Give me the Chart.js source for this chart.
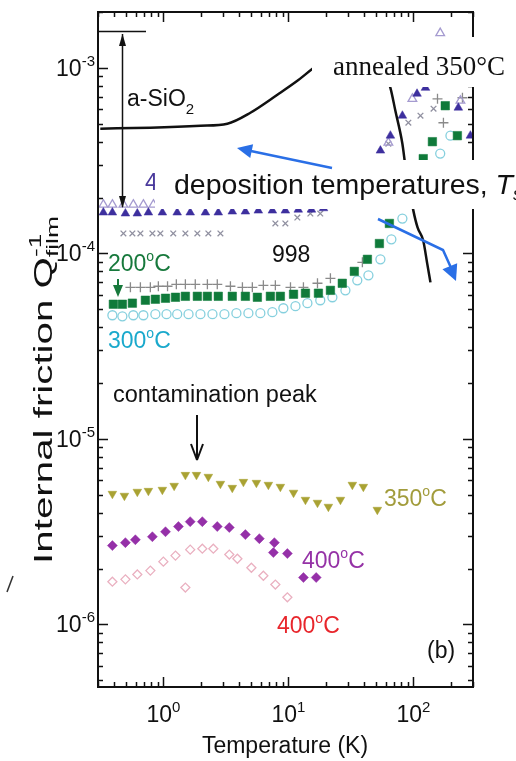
<!DOCTYPE html>
<html>
<head>
<meta charset="utf-8">
<script src="https://cdn.jsdelivr.net/npm/chart.js@4.4.0/dist/chart.umd.min.js"></script>
<style>
  html, body { margin: 0; padding: 0; background: #fff; }
  #wrap { width: 516px; height: 761px; position: relative; }
</style>
</head>
<body>
<div id="wrap"><canvas id="chart"></canvas></div>
<script>
// axis ranges
const tMin = 0.3, tMax = 300;
const qMin = 4.6e-7, qMax = 2.0e-3;
const xTickExps = [0, 1, 2];
const yTickExps = [-3, -4, -5, -6];

// bulk a-SiO2 reference curve
const sio2T = [0.313, 0.787, 1.98, 3.25, 4.97, 8.17, 11.8, 15.6, 28.6, 49.7, 65.5, 71.8, 81.7, 86.3, 100, 108, 120, 129, 137];
const sio2Q = [4.70e-4, 4.76e-4, 4.87e-4, 5.0e-4, 5.73e-4, 7.16e-4, 8.51e-4, 9.88e-4, 1.31e-3, 1.23e-3, 7.80e-4, 5.87e-4, 3.90e-4, 2.97e-4, 1.70e-4, 1.38e-4, 1.17e-4, 8.83e-5, 6.98e-5];

// 400C film, filled triangles
const triT = [0.331, 0.391, 0.497, 0.619, 0.759, 0.982, 1.29, 1.64, 2.17, 2.75, 3.56, 4.53, 5.75, 7.45, 9.46, 12.0, 15.3, 19.1, 23.7, 31.3, 41.3, 54.5, 65.5, 81.7, 107, 125, 229, 286];
const triQ = [1.66e-4, 1.66e-4, 1.64e-4, 1.64e-4, 1.66e-4, 1.66e-4, 1.66e-4, 1.66e-4, 1.66e-4, 1.66e-4, 1.68e-4, 1.68e-4, 1.70e-4, 1.70e-4, 1.70e-4, 1.72e-4, 1.72e-4, 1.75e-4, 1.81e-4, 2.2e-4, 2.8e-4, 3.58e-4, 4.31e-4, 5.52e-4, 7.25e-4, 7.80e-4, 6.10e-4, 4.31e-4];

// open triangles
const openTriT = [0.331, 0.391, 0.479, 0.575, 0.692, 0.832, 63.1, 98.2, 164, 238];
const openTriQ = [1.83e-4, 1.83e-4, 1.83e-4, 1.83e-4, 1.83e-4, 1.83e-4, 3.95e-4, 6.81e-4, 1.54e-3, 6.65e-4];

// crosses
const crossT = [0.479, 0.565, 0.655, 0.817, 0.946, 1.20, 1.50, 1.87, 2.29, 2.86, 3.56, 4.53, 7.87, 9.46, 11.8, 15.0, 18.0, 26.1, 37.7, 63.1, 91.2, 114, 145];
const crossQ = [1.28e-4, 1.28e-4, 1.28e-4, 1.28e-4, 1.28e-4, 1.28e-4, 1.28e-4, 1.28e-4, 1.28e-4, 1.28e-4, 1.28e-4, 1.30e-4, 1.45e-4, 1.45e-4, 1.56e-4, 1.64e-4, 1.64e-4, 1.93e-4, 2.47e-4, 3.90e-4, 5.06e-4, 5.52e-4, 6.02e-4];

// plus signs
const plusT = [0.545, 0.655, 0.787, 0.912, 1.08, 1.27, 1.50, 1.80, 2.25, 2.70, 3.44, 4.29, 5.15, 6.31, 7.87, 10.4, 13.2, 17.1, 21.7, 39.1, 156, 174, 247];
const plusQ = [6.56e-5, 6.56e-5, 6.56e-5, 6.65e-5, 6.65e-5, 6.81e-5, 6.81e-5, 6.81e-5, 6.81e-5, 6.81e-5, 6.65e-5, 6.56e-5, 6.56e-5, 6.73e-5, 6.73e-5, 6.56e-5, 6.56e-5, 6.90e-5, 7.34e-5, 8.95e-5, 6.81e-4, 5.06e-4, 6.90e-4];

// 200C film, filled squares
const sqT = [0.398, 0.470, 0.565, 0.718, 0.863, 1.04, 1.25, 1.50, 1.87, 2.25, 2.75, 3.56, 4.53, 5.65, 7.18, 8.63, 11.0, 13.7, 17.4, 21.7, 27.0, 33.7, 42.9, 53.5, 64.3, 120, 142, 180, 225];
const sqQ = [5.32e-5, 5.32e-5, 5.39e-5, 5.59e-5, 5.66e-5, 5.73e-5, 5.80e-5, 5.87e-5, 5.87e-5, 5.87e-5, 5.87e-5, 5.87e-5, 5.87e-5, 5.80e-5, 5.87e-5, 5.87e-5, 6.02e-5, 6.10e-5, 6.10e-5, 6.32e-5, 6.90e-5, 8.0e-5, 9.29e-5, 1.13e-4, 1.45e-4, 3.24e-4, 4.0e-4, 6.25e-4, 4.31e-4];

// 300C film, open circles
const circT = [0.391, 0.470, 0.575, 0.692, 0.863, 1.06, 1.29, 1.59, 1.98, 2.47, 3.08, 3.84, 4.79, 5.97, 7.45, 9.12, 11.4, 14.2, 18.0, 22.5, 28.6, 35.6, 43.7, 54.5, 66.7, 81.7, 164, 198];
const circQ = [4.64e-5, 4.58e-5, 4.64e-5, 4.64e-5, 4.70e-5, 4.70e-5, 4.70e-5, 4.70e-5, 4.70e-5, 4.70e-5, 4.70e-5, 4.76e-5, 4.76e-5, 4.76e-5, 4.82e-5, 5.06e-5, 5.19e-5, 5.39e-5, 5.59e-5, 5.80e-5, 6.32e-5, 7.16e-5, 7.62e-5, 9.29e-5, 1.19e-4, 1.54e-4, 3.45e-4, 4.31e-4];

// 350C film, down triangles
const downT = [0.391, 0.488, 0.619, 0.759, 0.982, 1.22, 1.50, 1.84, 2.29, 2.86, 3.56, 4.37, 5.55, 6.92, 8.63, 11.0, 13.7, 17.1, 20.9, 26.1, 32.5, 39.8, 51.5];
const downQ = [5.06e-6, 4.94e-6, 5.19e-6, 5.25e-6, 5.32e-6, 5.59e-6, 6.40e-6, 6.40e-6, 6.25e-6, 5.73e-6, 5.45e-6, 5.87e-6, 5.80e-6, 5.66e-6, 5.52e-6, 5.13e-6, 4.70e-6, 4.53e-6, 4.31e-6, 4.70e-6, 5.66e-6, 5.52e-6, 4.15e-6];

// 400C film, filled diamonds
const diaT = [0.391, 0.497, 0.597, 0.817, 1.04, 1.32, 1.64, 2.05, 2.70, 3.37, 4.53, 5.86, 7.73, 7.59, 9.82, 13.2, 16.7];
const diaQ = [2.66e-6, 2.76e-6, 2.86e-6, 2.97e-6, 3.16e-6, 3.37e-6, 3.58e-6, 3.58e-6, 3.37e-6, 3.33e-6, 3.05e-6, 2.90e-6, 2.76e-6, 2.44e-6, 2.41e-6, 1.79e-6, 1.79e-6];

// 400C film, open diamonds
const openDiaT = [0.391, 0.497, 0.619, 0.787, 1.0, 1.25, 1.50, 1.64, 2.05, 2.51, 3.37, 3.91, 5.06, 6.31, 7.87, 9.82];
const openDiaQ = [1.70e-6, 1.75e-6, 1.86e-6, 1.95e-6, 2.18e-6, 2.35e-6, 1.58e-6, 2.53e-6, 2.56e-6, 2.56e-6, 2.38e-6, 2.26e-6, 2.02e-6, 1.83e-6, 1.64e-6, 1.40e-6];

function pairs(xs, ys) {
    return xs.map((x, i) => ({ x, y: ys[i] }));
}

function marker(data, style, color, radius, filled, extra) {
    return Object.assign({
        data,
        pointStyle: style,
        pointRadius: radius,
        pointBorderColor: color,
        pointBackgroundColor: filled ? color : "rgba(0,0,0,0)",
        pointBorderWidth: filled ? 0.5 : 1.3,
        showLine: false,
    }, extra || {});
}

const SANS = '"Liberation Sans", Arial, Helvetica, sans-serif';
const SERIF = '"Liberation Serif", "Times New Roman", serif';

// draws runs of text with raised / lowered pieces on one baseline
function drawRich(ctx, x, y, parts, align) {
    let width = 0;
    for (const p of parts) {
        ctx.font = (p.italic ? "italic " : "") + p.size + "px " + (p.family || SANS);
        p.w = ctx.measureText(p.text).width;
        if (p.stack) width += Math.max(0, p.w - parts[parts.indexOf(p) - 1].w);
        else width += p.w;
    }
    let cx = align === "right" ? x - width : align === "center" ? x - width / 2 : x;
    let last = 0;
    ctx.textAlign = "left";
    ctx.textBaseline = "alphabetic";
    for (const p of parts) {
        ctx.font = (p.italic ? "italic " : "") + p.size + "px " + (p.family || SANS);
        ctx.fillStyle = p.color || ctx.fillStyle;
        const px = p.stack ? cx - last : cx;
        ctx.fillText(p.text, px, y - (p.rise || 0));
        if (p.stack) {
            cx = Math.max(cx, px + p.w);
        } else {
            cx += p.w;
            last = p.w;
        }
    }
}

function power(exp, size, supSize, color) {
    return [
        { text: "10", size, color },
        { text: String(exp), size: supSize, rise: 10, color },
    ];
}

function degLabel(ctx, x, y, num, color) {
    ctx.fillStyle = color;
    drawRich(ctx, x, y, [
        { text: num, size: 23, color },
        { text: "o", size: 14, rise: 10, color },
        { text: "C", size: 23, color },
    ], "left");
}

function arrowHead(ctx, x, y, angle, len, half, fill) {
    ctx.beginPath();
    ctx.moveTo(x, y);
    ctx.lineTo(x - len * Math.cos(angle) + half * Math.sin(angle), y - len * Math.sin(angle) - half * Math.cos(angle));
    if (fill) {
        ctx.lineTo(x - len * Math.cos(angle) - half * Math.sin(angle), y - len * Math.sin(angle) + half * Math.cos(angle));
        ctx.closePath();
        ctx.fill();
    } else {
        ctx.moveTo(x, y);
        ctx.lineTo(x - len * Math.cos(angle) - half * Math.sin(angle), y - len * Math.sin(angle) + half * Math.cos(angle));
        ctx.stroke();
    }
}

const figureDecor = {
    id: "figureDecor",
    afterDatasetsDraw(chart) {
        const { ctx, chartArea: a, scales: { x, y } } = chart;
        ctx.save();

        // frame
        ctx.strokeStyle = "#111";
        ctx.lineWidth = 2;
        ctx.strokeRect(a.left, a.top, a.right - a.left, a.bottom - a.top);

        // inward ticks on all four sides
        ctx.lineWidth = 1.5;
        ctx.beginPath();
        for (let d = -1; d <= 3; d++) {
            for (let m = 1; m <= 9; m++) {
                const v = m * Math.pow(10, d);
                if (v < tMin || v > tMax) continue;
                const px = Math.round(x.getPixelForValue(v)) + 0.5;
                const len = m === 1 ? 10 : 5;
                ctx.moveTo(px, a.bottom); ctx.lineTo(px, a.bottom - len);
                ctx.moveTo(px, a.top); ctx.lineTo(px, a.top + len);
            }
        }
        for (let d = -7; d <= -2; d++) {
            for (let m = 1; m <= 9; m++) {
                const v = m * Math.pow(10, d);
                if (v < qMin || v > qMax) continue;
                const py = Math.round(y.getPixelForValue(v)) + 0.5;
                const len = m === 1 ? 10 : 5;
                ctx.moveTo(a.left, py); ctx.lineTo(a.left + len, py);
                ctx.moveTo(a.right, py); ctx.lineTo(a.right - len, py);
            }
        }
        ctx.stroke();

        // tick labels
        ctx.fillStyle = "#111";
        for (const e of xTickExps) {
            const px = x.getPixelForValue(Math.pow(10, e));
            drawRich(ctx, px, a.bottom + 35, power(e, 23, 15, "#111"), "center");
        }
        for (const e of yTickExps) {
            const py = y.getPixelForValue(Math.pow(10, e));
            drawRich(ctx, a.left - 3, py + 8, power(e, 23, 15, "#111"), "right");
        }

        // axis titles; the rotated one is drawn long and narrow
        drawRich(ctx, 285, 753, [{ text: "Temperature (K)", size: 23, color: "#111" }], "center");
        ctx.save();
        ctx.translate(52, 390);
        ctx.rotate(-Math.PI / 2);
        ctx.scale(1.55, 1);
        drawRich(ctx, 0, 0, [
            { text: "Internal friction Q", size: 26, color: "#111" },
            { text: "-1", size: 17, rise: 11, color: "#111" },
            { text: "film", size: 17, rise: -6, color: "#111", stack: true },
        ], "center");
        ctx.restore();

        // stray slash at the left margin
        ctx.strokeStyle = "#333";
        ctx.lineWidth = 1.5;
        ctx.beginPath();
        ctx.moveTo(13, 576); ctx.lineTo(7, 592);
        ctx.stroke();

        // a-SiO2 bracket
        ctx.strokeStyle = "#111";
        ctx.fillStyle = "#111";
        ctx.lineWidth = 1.5;
        ctx.beginPath();
        ctx.moveTo(a.left, 31.5); ctx.lineTo(146, 31.5);
        ctx.moveTo(122.5, 34); ctx.lineTo(122.5, 207);
        ctx.stroke();
        arrowHead(ctx, 122.5, 34, -Math.PI / 2, 12, 3.5, true);
        arrowHead(ctx, 122.5, 208, Math.PI / 2, 12, 3.5, true);
        drawRich(ctx, 127, 106, [
            { text: "a-SiO", size: 23, color: "#111" },
            { text: "2", size: 15, rise: -8, color: "#111" },
        ], "left");

        // purple 400C under the deposition box
        degLabel(ctx, 145, 190, "400", "#4a3a9c");

        // label boxes
        ctx.fillStyle = "#fff";
        ctx.fillRect(312, 37, 204, 50);
        ctx.fillRect(155, 160, 361, 49);
        ctx.fillRect(224, 228, 92, 44);

        drawRich(ctx, 333, 75, [{ text: "annealed 350\u00B0C", size: 27, family: SERIF, color: "#111" }], "left");
        drawRich(ctx, 174, 194, [
            { text: "deposition temperatures, ", size: 28.5, color: "#111" },
            { text: "T", size: 28.5, italic: true, color: "#111" },
            { text: "s", size: 18, rise: -6, italic: true, color: "#111" },
        ], "left");
        drawRich(ctx, 272, 262, [{ text: "998", size: 23, color: "#111" }], "left");

        // blue pointers
        ctx.strokeStyle = "#2a6fe6";
        ctx.fillStyle = "#2a6fe6";
        ctx.lineWidth = 2.5;
        ctx.beginPath();
        ctx.moveTo(332, 168); ctx.lineTo(246, 150);
        ctx.stroke();
        arrowHead(ctx, 237, 148, Math.atan2(148 - 168, 237 - 332), 15, 7, true);
        ctx.beginPath();
        ctx.moveTo(378, 219); ctx.lineTo(443, 250); ctx.lineTo(452, 270);
        ctx.stroke();
        arrowHead(ctx, 456, 281, Math.atan2(281 - 250, 456 - 443), 16, 8, true);

        // series labels
        degLabel(ctx, 108, 271, "200", "#17793c");
        degLabel(ctx, 108, 348, "300", "#1aa9cc");
        degLabel(ctx, 384, 506, "350", "#a29c3c");
        degLabel(ctx, 302, 568, "400", "#9532a6");
        degLabel(ctx, 277, 633, "400", "#e8262c");

        // green pointer
        ctx.strokeStyle = "#17793c";
        ctx.fillStyle = "#17793c";
        ctx.lineWidth = 2;
        ctx.beginPath();
        ctx.moveTo(118, 279); ctx.lineTo(118, 290);
        ctx.stroke();
        arrowHead(ctx, 118, 297, Math.PI / 2, 12, 5, true);

        // contamination peak
        drawRich(ctx, 113, 402, [{ text: "contamination peak", size: 23.5, color: "#111" }], "left");
        ctx.strokeStyle = "#111";
        ctx.fillStyle = "#111";
        ctx.lineWidth = 2;
        ctx.beginPath();
        ctx.moveTo(197, 415); ctx.lineTo(197, 458);
        ctx.stroke();
        arrowHead(ctx, 197, 460, Math.PI / 2, 16, 6, false);

        drawRich(ctx, 427, 658, [{ text: "(b)", size: 23, color: "#111" }], "left");
        ctx.restore();
    },
};

const datasets = [
    {
        data: pairs(sio2T, sio2Q),
        showLine: true,
        borderColor: "#111",
        borderWidth: 2.5,
        pointRadius: 0,
        cubicInterpolationMode: "monotone",
    },
    marker(pairs(sqT, sqQ), "rect", "#0f7a3a", 6, true),
    marker(pairs(triT, triQ), "triangle", "#3d2f9e", 5, true),
    marker(pairs(openTriT, openTriQ), "triangle", "#a59bd0", 5, false),
    marker(pairs(crossT, crossQ), "crossRot", "#9090a0", 4, false),
    marker(pairs(plusT, plusQ), "cross", "#8a8a8a", 5, false),
    marker(pairs(circT, circQ), "circle", "#86d0de", 4.5, false),
    marker(pairs(downT, downQ), "triangle", "#a9a233", 5, true, { pointRotation: 180 }),
    marker(pairs(diaT, diaQ), "rectRot", "#9530a8", 5, true),
    marker(pairs(openDiaT, openDiaQ), "rectRot", "#eab0c0", 4.5, false),
];

new Chart(document.getElementById("chart"), {
    type: "scatter",
    data: { datasets },
    options: {
        responsive: true,
        maintainAspectRatio: false,
        animation: false,
        devicePixelRatio: 1,
        layout: { padding: { top: 12, right: 43, left: 0, bottom: 0 } },
        plugins: { legend: { display: false }, tooltip: { enabled: false } },
        scales: {
            x: {
                type: "logarithmic",
                min: tMin,
                max: tMax,
                ticks: { display: false },
                grid: { display: false },
                border: { display: false },
                afterFit: (scale) => { scale.height = 74; },
            },
            y: {
                type: "logarithmic",
                min: qMin,
                max: qMax,
                ticks: { display: false },
                grid: { display: false },
                border: { display: false },
                afterFit: (scale) => { scale.width = 98; },
            },
        },
    },
    plugins: [figureDecor],
});
</script>
</body>
</html>
